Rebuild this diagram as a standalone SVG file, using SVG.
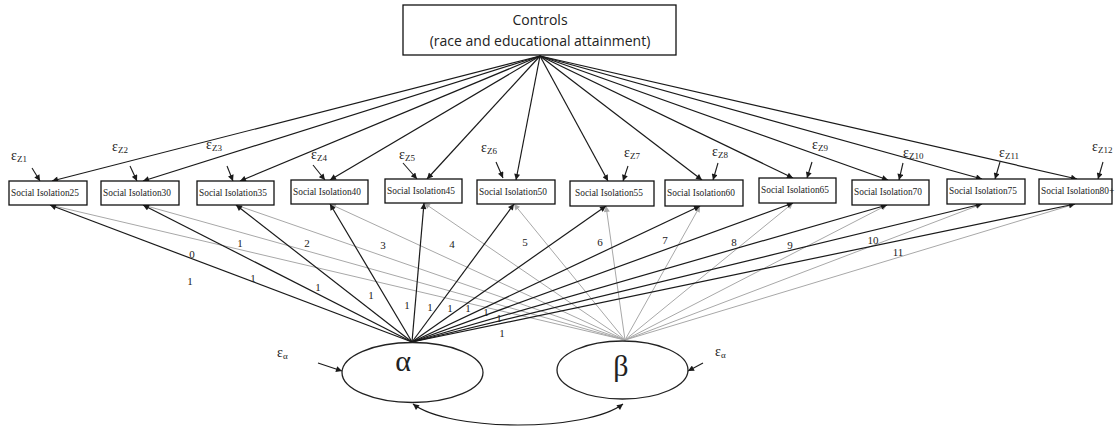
<svg xmlns="http://www.w3.org/2000/svg" width="1115" height="428" viewBox="0 0 1115 428">
  <style>
    .box { fill: #fff; stroke: #111; stroke-width: 1.3; }
    .boxlbl { font-family: "Liberation Serif", serif; font-size: 9.4px; fill: #222; }
    .ctl { font-family: "Open Sans", "Liberation Sans", sans-serif; font-size: 14px; fill: #222; text-anchor: middle; }
    .eps { font-family: "Liberation Serif", serif; font-size: 14px; fill: #222; }
    .sub { font-size: 9px; }
    .num { font-family: "Liberation Serif", serif; font-size: 11px; fill: #222; text-anchor: middle; }
    .blk { stroke: #1a1a1a; stroke-width: 1.2; fill: none; marker-end: url(#ah); }
    .gry { stroke: #a8a8a8; stroke-width: 1; fill: none; marker-end: url(#ahg); }
    .err { stroke: #1a1a1a; stroke-width: 1.1; fill: none; marker-end: url(#ah); }
    .lat { fill: #fff; stroke: #222; stroke-width: 1.3; }
    .greek { font-family: "Liberation Serif", serif; font-size: 30px; fill: #222; text-anchor: middle; }
  </style>
  <defs>
    <marker id="ah" viewBox="0 0 10 10" refX="10" refY="5" markerWidth="7" markerHeight="6" markerUnits="userSpaceOnUse" orient="auto">
      <path d="M0,0 L10,5 L0,10 z" fill="#1a1a1a"/>
    </marker>
    <marker id="ahg" viewBox="0 0 10 10" refX="10" refY="5" markerWidth="7" markerHeight="6" markerUnits="userSpaceOnUse" orient="auto">
      <path d="M0,0 L10,5 L0,10 z" fill="#a8a8a8"/>
    </marker>
    <marker id="ahs" viewBox="0 0 10 10" refX="10" refY="5" markerWidth="7" markerHeight="6" markerUnits="userSpaceOnUse" orient="auto-start-reverse">
      <path d="M0,0 L10,5 L0,10 z" fill="#1a1a1a"/>
    </marker>
  </defs>

  <!-- connectors -->
  <g id="connectors">
    <!-- controls to each indicator -->
    <g id="controls-paths">
      <line class="blk" x1="540" y1="56" x2="52" y2="181"/>
      <line class="blk" x1="540" y1="56" x2="143" y2="181"/>
      <line class="blk" x1="540" y1="56" x2="240" y2="181"/>
      <line class="blk" x1="540" y1="56" x2="330" y2="180"/>
      <line class="blk" x1="540" y1="56" x2="427" y2="179"/>
      <line class="blk" x1="540" y1="56" x2="516" y2="180"/>
      <line class="blk" x1="540" y1="56" x2="608" y2="181"/>
      <line class="blk" x1="540" y1="56" x2="702" y2="180"/>
      <line class="blk" x1="540" y1="56" x2="793" y2="178"/>
      <line class="blk" x1="540" y1="56" x2="888" y2="180"/>
      <line class="blk" x1="540" y1="56" x2="982" y2="179"/>
      <line class="blk" x1="540" y1="56" x2="1077" y2="179"/>
    </g>
    <!-- slope (beta) loadings -->
    <g id="beta-paths">
      <line class="gry" x1="625" y1="340" x2="50" y2="205"/>
      <line class="gry" x1="625" y1="340" x2="143" y2="205"/>
      <line class="gry" x1="625" y1="340" x2="236" y2="205"/>
      <line class="gry" x1="625" y1="340" x2="330" y2="204"/>
      <line class="gry" x1="625" y1="340" x2="424" y2="203"/>
      <line class="gry" x1="625" y1="340" x2="514" y2="204"/>
      <line class="gry" x1="625" y1="340" x2="606" y2="206"/>
      <line class="gry" x1="625" y1="340" x2="700" y2="206"/>
      <line class="gry" x1="625" y1="340" x2="793" y2="203"/>
      <line class="gry" x1="625" y1="340" x2="887" y2="205"/>
      <line class="gry" x1="625" y1="340" x2="982" y2="204"/>
      <line class="gry" x1="625" y1="340" x2="1075" y2="204"/>
    </g>
    <!-- intercept (alpha) loadings -->
    <g id="alpha-paths">
      <line class="blk" x1="412" y1="342" x2="50" y2="205"/>
      <line class="blk" x1="412" y1="342" x2="143" y2="205"/>
      <line class="blk" x1="412" y1="342" x2="236" y2="205"/>
      <line class="blk" x1="412" y1="342" x2="330" y2="204"/>
      <line class="blk" x1="412" y1="342" x2="424" y2="203"/>
      <line class="blk" x1="412" y1="342" x2="514" y2="204"/>
      <line class="blk" x1="412" y1="342" x2="606" y2="206"/>
      <line class="blk" x1="412" y1="342" x2="700" y2="206"/>
      <line class="blk" x1="412" y1="342" x2="793" y2="203"/>
      <line class="blk" x1="412" y1="342" x2="887" y2="205"/>
      <line class="blk" x1="412" y1="342" x2="982" y2="204"/>
      <line class="blk" x1="412" y1="342" x2="1075" y2="204"/>
    </g>
    <!-- residual arrows on indicators -->
    <g id="residual-paths">
      <line class="err" x1="32" y1="168" x2="40" y2="181"/>
      <line class="err" x1="130" y1="166" x2="137" y2="181"/>
      <line class="err" x1="227" y1="166" x2="233" y2="181"/>
      <line class="err" x1="313" y1="165" x2="325" y2="180"/>
      <line class="err" x1="403" y1="163" x2="417" y2="179"/>
      <line class="err" x1="496" y1="162" x2="503" y2="178"/>
      <line class="err" x1="628" y1="166" x2="623" y2="181"/>
      <line class="err" x1="718" y1="163" x2="713" y2="180"/>
      <line class="err" x1="812" y1="162" x2="807" y2="178"/>
      <line class="err" x1="903" y1="163" x2="899" y2="180"/>
      <line class="err" x1="1000" y1="162" x2="995" y2="179"/>
      <line class="err" x1="1103" y1="162" x2="1098" y2="179"/>
      <!-- latent residuals -->
      <line class="err" x1="318" y1="363" x2="342" y2="371"/>
      <line class="err" x1="703" y1="363" x2="688" y2="371"/>
    </g>
    <!-- covariance between growth factors -->
    <path id="covariance" d="M413,404 C450,432 586,432 623,404" fill="none" stroke="#1a1a1a" stroke-width="1.2" marker-start="url(#ahs)" marker-end="url(#ahs)"/>
  </g>

  <!-- loading labels -->
  <g id="slope-loadings">
    <text class="num" x="192" y="258">0</text>
    <text class="num" x="240" y="247">1</text>
    <text class="num" x="307" y="247">2</text>
    <text class="num" x="383" y="249">3</text>
    <text class="num" x="452" y="248">4</text>
    <text class="num" x="525" y="246">5</text>
    <text class="num" x="600" y="246">6</text>
    <text class="num" x="665" y="244">7</text>
    <text class="num" x="734" y="246">8</text>
    <text class="num" x="790" y="249">9</text>
    <text class="num" x="873" y="244">10</text>
    <text class="num" x="898" y="256">11</text>
  </g>
  <g id="intercept-loadings">
    <text class="num" x="190" y="285">1</text>
    <text class="num" x="253" y="282">1</text>
    <text class="num" x="318" y="291">1</text>
    <text class="num" x="371" y="299">1</text>
    <text class="num" x="407" y="309">1</text>
    <text class="num" x="430" y="311">1</text>
    <text class="num" x="450" y="312">1</text>
    <text class="num" x="468" y="312">1</text>
    <text class="num" x="486" y="316">1</text>
    <text class="num" x="499" y="322">1</text>
    <text class="num" x="502" y="337">1</text>
  </g>

  <!-- controls node -->
  <g id="controls">
    <rect class="box" x="403" y="5" width="273" height="50"/>
    <text class="ctl" x="540" y="25">Controls</text>
    <text class="ctl" x="540" y="46">(race and educational attainment)</text>
  </g>

  <!-- observed indicators -->
  <g id="si25"><rect class="box" x="9" y="181" width="78" height="24"/><text class="boxlbl" x="11" y="196">Social Isolation25</text></g>
  <g id="si30"><rect class="box" x="101" y="181" width="78" height="24"/><text class="boxlbl" x="103" y="196">Social Isolation30</text></g>
  <g id="si35"><rect class="box" x="197" y="181" width="77" height="24"/><text class="boxlbl" x="199" y="196">Social Isolation35</text></g>
  <g id="si40"><rect class="box" x="291" y="180" width="77" height="24"/><text class="boxlbl" x="293" y="195">Social Isolation40</text></g>
  <g id="si45"><rect class="box" x="385" y="179" width="77" height="24"/><text class="boxlbl" x="387" y="194">Social Isolation45</text></g>
  <g id="si50"><rect class="box" x="477" y="180" width="78" height="24"/><text class="boxlbl" x="479" y="195">Social Isolation50</text></g>
  <g id="si55"><rect class="box" x="570" y="181" width="84" height="25"/><text class="boxlbl" x="575" y="196">Social Isolation55</text></g>
  <g id="si60"><rect class="box" x="665" y="180" width="78" height="26"/><text class="boxlbl" x="667" y="196">Social Isolation60</text></g>
  <g id="si65"><rect class="box" x="759" y="178" width="77" height="25"/><text class="boxlbl" x="761" y="193">Social Isolation65</text></g>
  <g id="si70"><rect class="box" x="852" y="180" width="77" height="25"/><text class="boxlbl" x="854" y="195">Social Isolation70</text></g>
  <g id="si75"><rect class="box" x="947" y="179" width="78" height="25"/><text class="boxlbl" x="949" y="194">Social Isolation75</text></g>
  <g id="si80"><rect class="box" x="1039" y="179" width="73" height="25"/><text class="boxlbl" x="1041" y="194">Social Isolation80+</text></g>

  <!-- indicator residual labels -->
  <g id="residual-labels">
    <text class="eps" x="11" y="160">ε<tspan class="sub" dy="2">Z1</tspan></text>
    <text class="eps" x="112" y="151">ε<tspan class="sub" dy="2">Z2</tspan></text>
    <text class="eps" x="206" y="149">ε<tspan class="sub" dy="2">Z3</tspan></text>
    <text class="eps" x="311" y="159">ε<tspan class="sub" dy="2">Z4</tspan></text>
    <text class="eps" x="399" y="159">ε<tspan class="sub" dy="2">Z5</tspan></text>
    <text class="eps" x="481" y="152">ε<tspan class="sub" dy="2">Z6</tspan></text>
    <text class="eps" x="624" y="157">ε<tspan class="sub" dy="2">Z7</tspan></text>
    <text class="eps" x="712" y="156">ε<tspan class="sub" dy="2">Z8</tspan></text>
    <text class="eps" x="812" y="149">ε<tspan class="sub" dy="2">Z9</tspan></text>
    <text class="eps" x="903" y="157">ε<tspan class="sub" dy="2">Z10</tspan></text>
    <text class="eps" x="999" y="157">ε<tspan class="sub" dy="2">Z11</tspan></text>
    <text class="eps" x="1092" y="151">ε<tspan class="sub" dy="2">Z12</tspan></text>
  </g>

  <!-- growth factors -->
  <g id="alpha">
    <ellipse class="lat" cx="412.5" cy="372.5" rx="70.5" ry="30"/>
    <text class="greek" x="403" y="371">α</text>
  </g>
  <g id="beta">
    <ellipse class="lat" cx="622.5" cy="370" rx="65.5" ry="29"/>
    <text class="greek" x="621" y="376">β</text>
  </g>
  <g id="latent-residual-labels">
    <text class="eps" x="277" y="357">ε<tspan class="sub" dy="2">α</tspan></text>
    <text class="eps" x="715" y="356">ε<tspan class="sub" dy="2">α</tspan></text>
  </g>
</svg>
